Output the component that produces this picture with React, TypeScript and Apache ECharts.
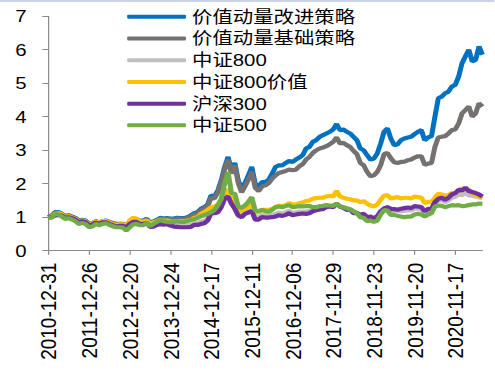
import React, { useEffect, useRef } from "react";
import * as echarts from "echarts";

const TICK_LABELS = [
  "2010-12-31", "2011-12-26", "2012-12-20", "2013-12-24", "2014-12-17", "2015-12-11",
  "2016-12-06", "2017-11-29", "2018-11-23", "2019-11-20", "2020-11-17",
];

const SERIES_NAMES = ["价值动量改进策略", "价值动量基础策略", "中证800", "中证800价值", "沪深300", "中证500"];
const SERIES_COLORS = ["#0070C0", "#767171", "#BFBFBF", "#FFC000", "#7030A0", "#70AD47"];

const BLUE = [
  1.00, 1.05, 1.15, 1.15, 1.10, 1.03, 1.06, 1.02, 0.98, 0.90, 0.92, 0.90,
  0.80, 0.82, 0.88, 0.84, 0.88, 0.90, 0.86, 0.83, 0.80, 0.80, 0.80, 0.75,
  0.88, 0.95, 0.94, 0.90, 0.90, 0.95, 0.84, 0.87, 0.92, 0.98, 0.96, 0.97,
  0.96, 0.96, 0.98, 0.97, 0.97, 1.00, 1.05, 1.12, 1.15, 1.25, 1.30, 1.38,
  1.65, 1.62, 1.80, 2.10, 2.50, 2.80, 2.40, 2.62, 2.10, 1.85, 2.02, 2.25,
  2.50, 2.00, 1.92, 2.05, 2.05, 2.12, 2.30, 2.50, 2.55, 2.55, 2.62, 2.68,
  2.65, 2.72, 2.78, 2.85, 3.05, 3.10, 3.25, 3.30, 3.40, 3.45, 3.50, 3.55,
  3.62, 3.78, 3.60, 3.62, 3.55, 3.50, 3.40, 3.30, 3.05, 3.00, 2.85, 2.72,
  2.75, 2.90, 3.20, 3.55, 3.65, 3.35, 3.15, 3.18, 3.30, 3.35, 3.38, 3.40,
  3.48, 3.55, 3.60, 3.30, 3.38, 3.42, 4.00, 4.55, 4.60, 4.70, 4.75, 4.90,
  4.95, 5.20, 5.60, 5.80, 6.00, 5.65, 5.70, 6.10, 5.85,
];

const GRAY = [
  1.00, 1.04, 1.14, 1.13, 1.08, 1.01, 1.04, 1.00, 0.96, 0.88, 0.90, 0.88,
  0.79, 0.81, 0.87, 0.83, 0.87, 0.88, 0.84, 0.81, 0.78, 0.79, 0.79, 0.74,
  0.86, 0.93, 0.92, 0.88, 0.88, 0.93, 0.82, 0.85, 0.90, 0.96, 0.94, 0.95,
  0.94, 0.94, 0.96, 0.95, 0.95, 0.98, 1.02, 1.08, 1.12, 1.20, 1.26, 1.33,
  1.58, 1.56, 1.74, 2.04, 2.42, 2.72, 2.30, 2.55, 2.02, 1.74, 1.92, 2.12,
  2.36, 1.88, 1.78, 1.92, 1.95, 2.02, 2.15, 2.25, 2.32, 2.35, 2.38, 2.42,
  2.40, 2.42, 2.52, 2.58, 2.72, 2.80, 2.92, 3.00, 3.05, 3.08, 3.12, 3.18,
  3.25, 3.38, 3.20, 3.22, 3.15, 3.10, 2.98, 2.88, 2.62, 2.55, 2.35, 2.22,
  2.25, 2.35, 2.55, 2.88, 2.92, 2.76, 2.64, 2.62, 2.65, 2.66, 2.70, 2.72,
  2.78, 2.82, 2.82, 2.56, 2.60, 2.62, 3.10, 3.38, 3.40, 3.42, 3.50, 3.60,
  3.62, 3.80, 4.10, 4.20, 4.30, 4.00, 4.10, 4.40, 4.30,
];

const LIGHTGRAY = [
  1.00, 1.00, 1.06, 1.07, 1.04, 0.97, 0.99, 0.96, 0.92, 0.84, 0.87, 0.84,
  0.75, 0.76, 0.83, 0.79, 0.84, 0.84, 0.79, 0.75, 0.71, 0.73, 0.73, 0.66,
  0.77, 0.84, 0.84, 0.79, 0.79, 0.84, 0.72, 0.74, 0.80, 0.83, 0.81, 0.81,
  0.78, 0.76, 0.76, 0.75, 0.75, 0.75, 0.77, 0.82, 0.83, 0.87, 0.89, 0.96,
  1.13, 1.15, 1.21, 1.38, 1.69, 1.84, 1.50, 1.39, 1.13, 1.08, 1.18, 1.24,
  1.31, 1.01, 1.01, 1.07, 1.05, 1.04, 1.07, 1.10, 1.14, 1.12, 1.15, 1.19,
  1.13, 1.15, 1.17, 1.17, 1.17, 1.19, 1.22, 1.24, 1.26, 1.27, 1.32, 1.33,
  1.31, 1.40, 1.32, 1.29, 1.24, 1.23, 1.14, 1.13, 1.05, 1.06, 0.96, 0.98,
  0.94, 0.99, 1.15, 1.25, 1.27, 1.15, 1.20, 1.19, 1.18, 1.19, 1.21, 1.20,
  1.26, 1.25, 1.23, 1.13, 1.20, 1.21, 1.41, 1.49, 1.51, 1.45, 1.50, 1.58,
  1.61, 1.68, 1.66, 1.72, 1.65, 1.64, 1.62, 1.60, 1.55,
];

const YELLOW = [
  1.00, 1.02, 1.10, 1.12, 1.08, 1.00, 1.03, 0.99, 0.95, 0.87, 0.90, 0.87,
  0.79, 0.81, 0.87, 0.83, 0.88, 0.88, 0.84, 0.80, 0.77, 0.79, 0.79, 0.74,
  0.90, 0.98, 0.96, 0.88, 0.87, 0.90, 0.82, 0.84, 0.88, 0.92, 0.90, 0.90,
  0.88, 0.87, 0.88, 0.88, 0.88, 0.90, 0.92, 0.98, 1.00, 1.10, 1.15, 1.22,
  1.30, 1.32, 1.38, 1.50, 1.70, 1.80, 1.55, 1.42, 1.22, 1.18, 1.28, 1.32,
  1.38, 1.15, 1.15, 1.22, 1.22, 1.22, 1.24, 1.30, 1.34, 1.33, 1.36, 1.42,
  1.38, 1.38, 1.42, 1.44, 1.48, 1.50, 1.55, 1.57, 1.58, 1.58, 1.62, 1.64,
  1.62, 1.78, 1.62, 1.58, 1.55, 1.54, 1.50, 1.50, 1.45, 1.48, 1.40, 1.35,
  1.32, 1.38, 1.52, 1.64, 1.66, 1.56, 1.58, 1.60, 1.56, 1.58, 1.58, 1.56,
  1.62, 1.60, 1.58, 1.42, 1.46, 1.45, 1.58, 1.70, 1.68, 1.64, 1.66, 1.72,
  1.70, 1.78, 1.86, 1.82, 1.82, 1.72, 1.66, 1.62, 1.58,
];

const PURPLE = [
  1.00, 1.00, 1.05, 1.07, 1.05, 0.98, 1.00, 0.97, 0.93, 0.85, 0.88, 0.85,
  0.76, 0.78, 0.84, 0.80, 0.85, 0.85, 0.80, 0.76, 0.72, 0.74, 0.74, 0.69,
  0.80, 0.86, 0.86, 0.80, 0.80, 0.84, 0.71, 0.72, 0.77, 0.79, 0.78, 0.79,
  0.75, 0.72, 0.71, 0.70, 0.70, 0.70, 0.71, 0.77, 0.77, 0.80, 0.82, 0.90,
  1.12, 1.12, 1.15, 1.30, 1.55, 1.62, 1.40, 1.25, 1.05, 1.00, 1.10, 1.14,
  1.18, 0.93, 0.93, 1.00, 0.99, 0.99, 1.00, 1.02, 1.06, 1.04, 1.07, 1.12,
  1.06, 1.08, 1.10, 1.11, 1.10, 1.12, 1.18, 1.21, 1.23, 1.24, 1.30, 1.32,
  1.30, 1.40, 1.32, 1.28, 1.22, 1.23, 1.12, 1.13, 1.07, 1.10, 1.00, 1.02,
  0.97, 1.03, 1.18, 1.26, 1.30, 1.25, 1.24, 1.22, 1.25, 1.27, 1.29, 1.27,
  1.33, 1.32, 1.30, 1.18, 1.25, 1.25, 1.45, 1.55, 1.58, 1.52, 1.58, 1.68,
  1.72, 1.82, 1.80, 1.88, 1.78, 1.75, 1.72, 1.68, 1.62,
];

const GREEN = [
  1.00, 0.98, 1.10, 1.08, 1.02, 0.95, 0.97, 0.93, 0.88, 0.80, 0.83, 0.80,
  0.70, 0.72, 0.80, 0.76, 0.80, 0.82, 0.77, 0.73, 0.70, 0.70, 0.69, 0.60,
  0.70, 0.78, 0.80, 0.76, 0.76, 0.84, 0.73, 0.80, 0.86, 0.92, 0.88, 0.86,
  0.85, 0.86, 0.88, 0.86, 0.86, 0.88, 0.92, 0.94, 0.98, 1.03, 1.06, 1.10,
  1.15, 1.22, 1.35, 1.55, 2.00, 2.35, 1.72, 1.70, 1.32, 1.28, 1.35, 1.46,
  1.60, 1.20, 1.18, 1.22, 1.18, 1.16, 1.22, 1.30, 1.32, 1.30, 1.33, 1.36,
  1.30, 1.31, 1.33, 1.32, 1.33, 1.34, 1.30, 1.30, 1.33, 1.34, 1.36, 1.35,
  1.34, 1.40, 1.32, 1.30, 1.27, 1.24, 1.18, 1.12, 1.00, 0.98, 0.88, 0.90,
  0.86, 0.90, 1.08, 1.21, 1.20, 1.07, 1.07, 1.04, 1.02, 1.00, 1.02, 1.02,
  1.08, 1.10, 1.08, 1.02, 1.08, 1.12, 1.32, 1.35, 1.34, 1.30, 1.33, 1.36,
  1.35, 1.36, 1.33, 1.34, 1.36, 1.38, 1.38, 1.41, 1.40,
];

const SERIES_DATA = [BLUE, GRAY, LIGHTGRAY, YELLOW, PURPLE, GREEN];
const POINTS_PER_TICK = 12;

// Category labels: tick labels every 12 points, approximate months in between
const CATEGORIES: string[] = BLUE.map((_, i) => {
  if (i % POINTS_PER_TICK === 0 && TICK_LABELS[i / POINTS_PER_TICK]) return TICK_LABELS[i / POINTS_PER_TICK];
  const y = 2011 + Math.floor((i - 1) / 12);
  const m = ((i - 1) % 12) + 1;
  return `${y}-${m < 10 ? "0" + m : m}`;
});

const SCALE_X = 1.2;
const INNER_W = 412;
const INNER_H = 375;
const FONT = "'Liberation Sans', Arial, 'Noto Sans CJK SC', sans-serif";

export default function App() {
  const ref = useRef<HTMLDivElement>(null);

  useEffect(() => {
    if (!ref.current) return;
    const chart = echarts.init(ref.current, null, { renderer: "svg", width: INNER_W, height: INNER_H });
    const axisColor = "#8a8a8a";
    chart.setOption({
      animation: false,
      textStyle: { fontFamily: FONT },
      graphic: [
        {
          type: "line",
          shape: { x1: 0, y1: 1, x2: INNER_W, y2: 1 },
          style: { stroke: "#8FAAD4", lineWidth: 1.2 },
        },
      ],
      legend: {
        orient: "vertical",
        left: 106,
        top: 7,
        padding: 0,
        itemWidth: 49,
        itemHeight: 4,
        itemGap: 2,
        icon: "roundRect",
        data: SERIES_NAMES,
        textStyle: { fontSize: 17, lineHeight: 19.7, color: "#000", fontFamily: FONT },
      },
      grid: { left: 40.25, right: 10, top: 16.2, bottom: 124.3, containLabel: false },
      xAxis: {
        type: "category",
        data: CATEGORIES,
        boundaryGap: false,
        axisLine: { lineStyle: { color: axisColor, width: 1 } },
        axisTick: { interval: POINTS_PER_TICK - 1, length: 4, lineStyle: { color: axisColor } },
        axisLabel: {
          interval: POINTS_PER_TICK - 1,
          rotate: 90,
          fontSize: 19,
          margin: 12,
          color: "#000",
          fontFamily: FONT,
        },
        splitLine: { show: false },
      },
      yAxis: {
        type: "value",
        min: 0,
        max: 7,
        interval: 1,
        axisLine: { show: true, lineStyle: { color: axisColor, width: 1 } },
        axisTick: { show: true, length: 5, lineStyle: { color: axisColor } },
        axisLabel: { fontSize: 17, margin: 18, color: "#000", fontFamily: FONT },
        splitLine: { show: false },
      },
      series: SERIES_NAMES.map((name, k) => ({
        name,
        type: "line",
        data: SERIES_DATA[k],
        showSymbol: false,
        symbol: "none",
        color: SERIES_COLORS[k],
        lineStyle: { width: 4.2, color: SERIES_COLORS[k] },
        emphasis: { disabled: true },
      })),
    });
    return () => chart.dispose();
  }, []);

  return (
    <div style={{ position: "fixed", left: 0, top: 0, width: 495, height: 375, overflow: "hidden", background: "#fff" }}>
      <div
        ref={ref}
        style={{
          width: INNER_W,
          height: INNER_H,
          transform: `scaleX(${SCALE_X})`,
          transformOrigin: "0 0",
        }}
      />
    </div>
  );
}
